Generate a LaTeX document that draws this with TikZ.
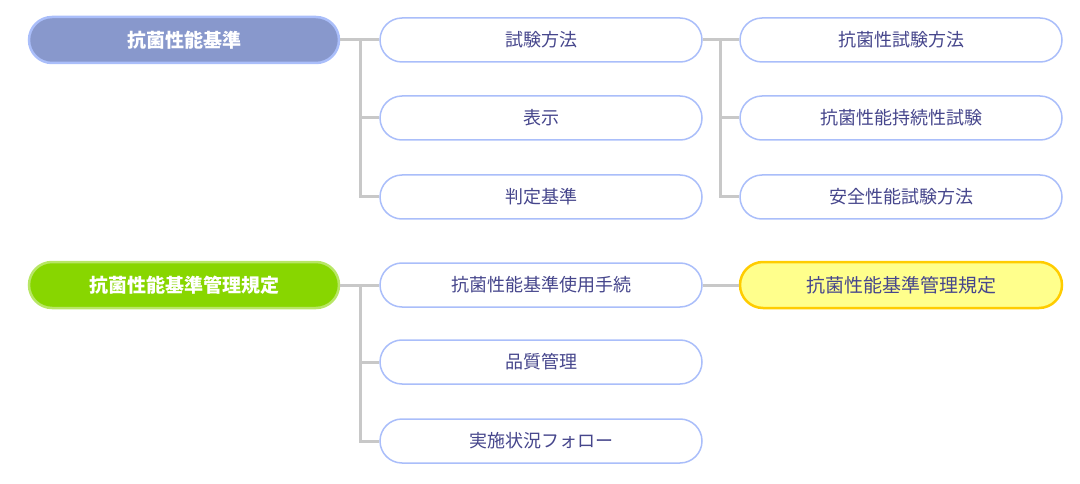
\documentclass[tikz,border=0pt]{standalone}
\usepackage{fontspec}
\setmainfont{Noto Sans CJK JP}
\usetikzlibrary{positioning}
\definecolor{txtblue}{RGB}{70,70,140}
\definecolor{boxline}{RGB}{170,190,250}
\definecolor{rootblue}{RGB}{136,152,204}
\definecolor{rootgreen}{RGB}{136,214,0}
\definecolor{paleyellow}{RGB}{255,255,140}
\definecolor{gold}{RGB}{255,204,0}
\definecolor{linegray}{RGB}{200,200,200}
\tikzset{
	item/.style={draw=boxline,line width=1.5pt,fill=white,rounded corners=22pt,minimum width=322pt,minimum height=44pt,text=txtblue,font=\fontsize{18pt}{21pt}\selectfont},
	root/.style={rounded corners=23pt,minimum width=310pt,minimum height=46pt,text=white,line width=2.5pt,font=\bfseries\fontsize{19pt}{22pt}\selectfont},
	link/.style={draw=linegray,line width=3pt},
}
\begin{document}
\begin{tikzpicture}[x=1pt,y=-1pt]
				\useasboundingbox (0,0) rectangle (1080,484);
				
				% first group.....................
				\node [root,fill=rootblue,draw=boxline] (std) at (184,40) {抗菌性能基準};
				\node [item] (test) at (541,40) {試験方法};
				\node [item] (disp) at (541,118) {表示};
				\node [item] (judge) at (541,197) {判定基準};
				\node [item] (abt) at (901,40) {抗菌性試験方法};
				\node [item] (dur) at (901,118) {抗菌性能持続性試験};
				\node [item] (safe) at (901,197) {安全性能試験方法};
				
				% second group....................
				\node [root,fill=rootgreen,draw=rootgreen!60] (rule) at (184,285) {抗菌性能基準管理規定};
				\node [item] (use) at (541,285) {抗菌性能基準使用手続};
				\node [item] (qc) at (541,362) {品質管理};
				\node [item] (follow) at (541,441) {実施状況フォロー};
				\node [root,fill=paleyellow,draw=gold,text=txtblue,font=\fontsize{19pt}{22pt}\selectfont,minimum width=322pt] (rule2) at (901,285) {抗菌性能基準管理規定};
				
				% connectors......................
				\coordinate (t1) at (360,40);
				\coordinate (t2) at (720,40);
				\coordinate (t3) at (360,285);
				\draw [link] (std.east) -- (test.west);
				\draw [link] (t1) |- (disp.west);
				\draw [link] (t1) |- (judge.west);
				\draw [link] (test.east) -- (abt.west);
				\draw [link] (t2) |- (dur.west);
				\draw [link] (t2) |- (safe.west);
				\draw [link] (rule.east) -- (use.west);
				\draw [link] (t3) |- (qc.west);
				\draw [link] (t3) |- (follow.west);
				\draw [link] (use.east) -- (rule2.west);
			\end{tikzpicture}
\end{document}
